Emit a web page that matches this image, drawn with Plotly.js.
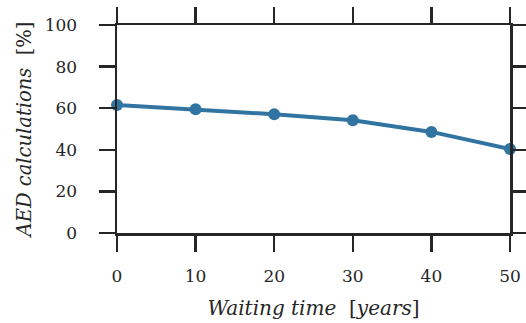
<!DOCTYPE html>
<html>
<head>
<meta charset="utf-8">
<script src="https://cdn.plot.ly/plotly-3.0.1.min.js"></script>
<style>html,body{margin:0;padding:0;background:#fff;}#chart{width:526px;height:323px;}</style>
</head>
<body>
<div id="chart"></div>
<script>
var waitingYears = [0, 10, 20, 30, 40, 50];
var aedPercent = [61.5, 59.5, 57.1, 54.2, 48.6, 40.4];
var xTicks = [0, 10, 20, 30, 40, 50];
var yTicks = [0, 20, 40, 60, 80, 100];

var axisCol = '#262626';
var fontFam = 'DejaVu Serif';

var trace = {
  x: waitingYears, y: aedPercent, type: 'scatter', mode: 'lines+markers',
  line: {color: '#3274a1', width: 4},
  marker: {color: '#3274a1', size: 12},
  cliponaxis: false, showlegend: false
};

var common = {
  showline: true, linecolor: axisCol, linewidth: 2.5, mirror: 'ticks',
  ticks: 'outside', ticklen: 16, tickwidth: 2.5, tickcolor: axisCol,
  showgrid: false, zeroline: false, fixedrange: true,
  tickfont: {family: fontFam, size: 17, color: axisCol}
};

var layout = {
  width: 526, height: 323,
  margin: {l: 117, r: 16, t: 25, b: 90},
  paper_bgcolor: '#fff', plot_bgcolor: '#fff',
  font: {family: fontFam, color: axisCol},
  xaxis: Object.assign({}, common, {
    range: [0, 50], tickvals: xTicks, ticktext: xTicks.map(String),
    ticklabelstandoff: 10,
    title: {text: '<i>Waiting time</i>  [<i>years</i>]', font: {family: fontFam, size: 20, color: axisCol}, standoff: 16}
  }),
  yaxis: Object.assign({}, common, {
    range: [0, 100], tickvals: yTicks, ticktext: yTicks.map(String),
    ticklabelstandoff: 18,
    title: {text: '<i>AED calculations</i>  [%]', font: {family: fontFam, size: 19.5, color: axisCol}, standoff: 8}
  })
};

Plotly.newPlot('chart', [trace], layout, {displayModeBar: false, staticPlot: true});
</script>
</body>
</html>
